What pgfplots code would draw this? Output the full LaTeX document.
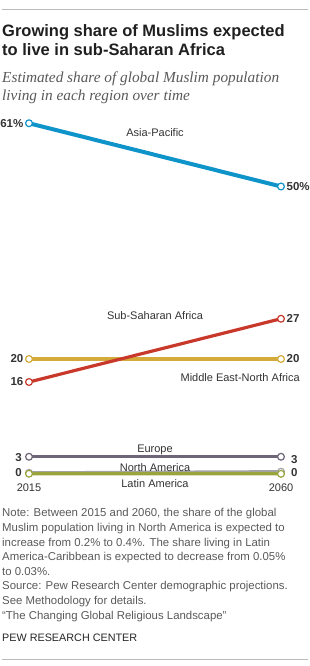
\documentclass[border=0pt]{standalone}
\usepackage{pgfplots}
\pgfplotsset{compat=1.18}
\usepackage{fontspec}
\setmainfont{Liberation Sans}
\newfontfamily\titlefont{Liberation Sans}
\newfontfamily\subfont{Liberation Serif}
\definecolor{apac}{HTML}{0E94C9}
\definecolor{ssa}{HTML}{C8392B}
\definecolor{mena}{HTML}{D4AB3A}
\definecolor{eur}{HTML}{6E6578}
\definecolor{nam}{HTML}{A3A3A3}
\definecolor{lam}{HTML}{9AA43C}
\definecolor{txt}{HTML}{333333}
\definecolor{note}{HTML}{595959}
\definecolor{rule}{HTML}{BBBBBB}
\begin{document}
\begin{tikzpicture}[x=1pt,y=1pt]
\path[use as bounding box] (0,0) rectangle (310,-666);
\draw[rule, line width=0.8pt] (2,-9) -- (308,-9);
\node[anchor=base west, inner sep=0, align=left, text=black!88,
  font=\titlefont\bfseries\fontsize{16.5}{19.5}\selectfont] at (2,-56)
  {Growing share of Muslims expected\\to live in sub-Saharan Africa};
\node[anchor=base west, inner sep=0, align=left, text=note,
  font=\subfont\itshape\fontsize{15.3}{18.5}\selectfont] at (2,-101)
  {Estimated share of global Muslim population\\living in each region over time};
\begin{axis}[at={(29pt,-474pt)}, anchor=south west,
  scale only axis, width=252pt, height=350.75pt,
  xmin=2015, xmax=2060, ymin=0, ymax=61,
  hide axis, clip=false]
\addplot[nam, line width=3.2pt, mark=*, mark size=3.4pt, mark options={fill=white,draw=nam,line width=1.2pt}] coordinates {(2015,0.2) (2060,0.4)};
\addplot[lam, line width=3.2pt, mark=*, mark size=3.4pt, mark options={fill=white,draw=lam,line width=1.2pt}] coordinates {(2015,0.05) (2060,0.03)};
\addplot[eur, line width=3.2pt, mark=*, mark size=3.4pt, mark options={fill=white,draw=eur,line width=1.2pt}] coordinates {(2015,3) (2060,3)};
\addplot[mena, line width=3.2pt, mark=*, mark size=3.4pt, mark options={fill=white,draw=mena,line width=1.2pt}] coordinates {(2015,20) (2060,20)};
\addplot[ssa, line width=3.2pt, mark=*, mark size=3.4pt, mark options={fill=white,draw=ssa,line width=1.2pt}] coordinates {(2015,16) (2060,27)};
\addplot[apac, line width=4pt, mark=*, mark size=3.4pt, mark options={fill=white,draw=apac,line width=1.2pt}] coordinates {(2015,61) (2060,50)};
% value labels
\begin{scope}[every node/.style={font=\bfseries\fontsize{11.5}{12}\selectfont, text=txt, inner sep=0}]
\node[anchor=east] at ([xshift=-5.5pt]axis cs:2015,61) {61\%};
\node[anchor=west] at ([xshift=5.5pt]axis cs:2060,50) {50\%};
\node[anchor=east] at ([xshift=-5.5pt]axis cs:2015,20) {20};
\node[anchor=east] at ([xshift=-5.5pt]axis cs:2015,16) {16};
\node[anchor=west] at ([xshift=5.5pt]axis cs:2060,27) {27};
\node[anchor=west] at ([xshift=5.5pt]axis cs:2060,20) {20};
\node[anchor=east] at ([xshift=-7pt]axis cs:2015,2.9) {3};
\node[anchor=east] at ([xshift=-7pt]axis cs:2015,0.3) {0};
\node[anchor=west] at ([xshift=10pt]axis cs:2060,2.6) {3};
\node[anchor=west] at ([xshift=10pt]axis cs:2060,0.3) {0};
\end{scope}
\begin{scope}[every node/.style={font=\fontsize{11}{12}\selectfont, text=txt, inner sep=0}]
\node at (axis cs:2037.5,59.3) {Asia-Pacific};
\node at (axis cs:2037.5,27.6) {Sub-Saharan Africa};
\node[anchor=east] at ([xshift=19pt]axis cs:2060,16.7) {Middle East-North Africa};
\node at (axis cs:2037.5,4.2) {Europe};
\node at (axis cs:2037.5,1.2) {North America};
\node at (axis cs:2037.5,-1.6) {Latin America};
\node at (axis cs:2015,-2.3) {2015};
\node at (axis cs:2060,-2.3) {2060};
\end{scope}
\end{axis}
\node[anchor=base west, inner sep=0, align=left, text=note,
  font=\fontsize{11.4}{14.6}\selectfont] at (2,-619)
  {Note: Between 2015 and 2060, the share of the global\\
   Muslim population living in North America is expected to\\
   increase from 0.2\% to 0.4\%. The share living in Latin\\
   America-Caribbean is expected to decrease from 0.05\%\\
   to 0.03\%.\\
   Source: Pew Research Center demographic projections.\\
   See Methodology for details.\\
   ``The Changing Global Religious Landscape''};
\node[anchor=base west, inner sep=0, text=black!85,
  font=\fontsize{10.8}{14}\selectfont] at (2,-641) {PEW RESEARCH CENTER};
\draw[rule, line width=0.8pt] (2,-659) -- (308,-659);
\end{tikzpicture}
\end{document}
